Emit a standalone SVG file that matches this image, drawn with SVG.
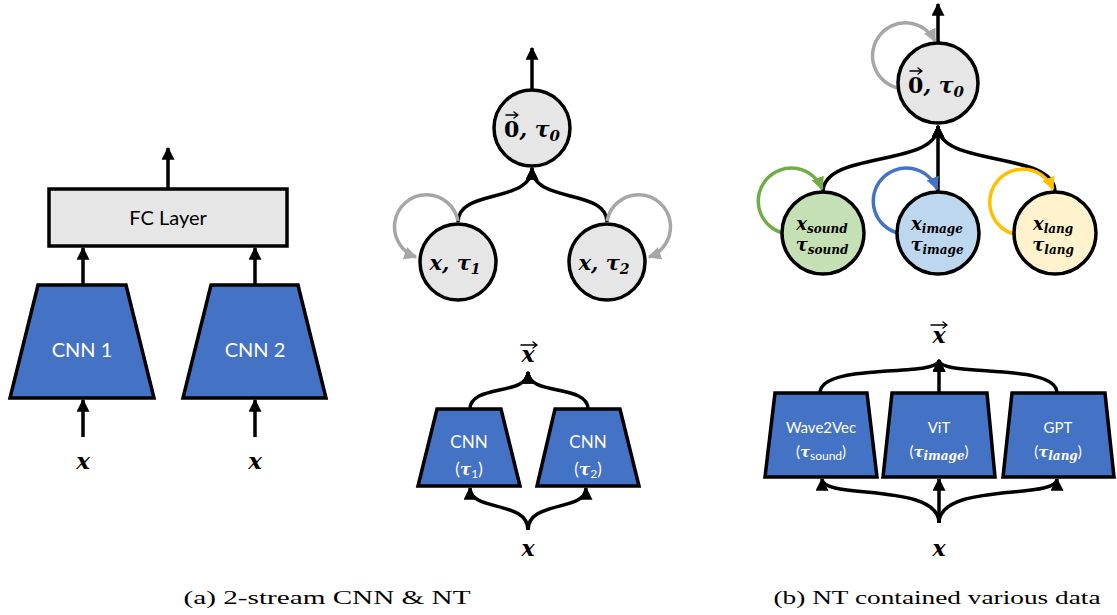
<svg xmlns="http://www.w3.org/2000/svg" width="1117" height="615" viewBox="0 0 1117 615">
<style>
.node{stroke:#000;stroke-width:3.5}
.grey{fill:#e6e6e6}
.blue{fill:#4472c4}
.conn{fill:none;stroke:#000;stroke-width:3.5}
.loop{fill:none;stroke-width:3.5}
.vec{fill:none;stroke:#000;stroke-width:1.4;stroke-linecap:round;stroke-linejoin:round}
.lbl{font-family:"Lato","Open Sans",sans-serif;fill:#fff;text-anchor:middle}
.math{font-family:"DejaVu Serif","Liberation Serif",serif;font-weight:bold;font-style:italic;fill:#000;text-anchor:middle}
.mathw{font-family:"DejaVu Serif","Liberation Serif",serif;font-weight:bold;font-style:italic;fill:#fff}
.up{font-style:normal}
.cap{font-family:"Liberation Serif","DejaVu Serif",serif;font-size:19px;fill:#000;text-anchor:middle}
</style>
<defs>
<marker id="ah" viewBox="0 0 10 10" refX="9" refY="5" markerUnits="userSpaceOnUse" markerWidth="13" markerHeight="13" orient="auto"><path d="M0,0 L10,5 L0,10 z" fill="#000"/></marker>
<marker id="ahg" viewBox="0 0 10 10" refX="9" refY="5" markerUnits="userSpaceOnUse" markerWidth="13" markerHeight="13" orient="auto"><path d="M0,0 L10,5 L0,10 z" fill="#a6a6a6"/></marker>
<marker id="ahgr" viewBox="0 0 10 10" refX="9" refY="5" markerUnits="userSpaceOnUse" markerWidth="13" markerHeight="13" orient="auto"><path d="M0,0 L10,5 L0,10 z" fill="#70ad47"/></marker>
<marker id="ahb" viewBox="0 0 10 10" refX="9" refY="5" markerUnits="userSpaceOnUse" markerWidth="13" markerHeight="13" orient="auto"><path d="M0,0 L10,5 L0,10 z" fill="#4472c4"/></marker>
<marker id="ahy" viewBox="0 0 10 10" refX="9" refY="5" markerUnits="userSpaceOnUse" markerWidth="13" markerHeight="13" orient="auto"><path d="M0,0 L10,5 L0,10 z" fill="#ffc000"/></marker>
</defs>

<!-- connectors -->
<g id="connectors">
  <!-- panel a left -->
  <path class="conn" d="M168,189 L168,148" marker-end="url(#ah)"/>
  <path class="conn" d="M83,285 L83,248" marker-end="url(#ah)"/>
  <path class="conn" d="M255,285 L255,248" marker-end="url(#ah)"/>
  <path class="conn" d="M83,437 L83,400" marker-end="url(#ah)"/>
  <path class="conn" d="M255,437 L255,400" marker-end="url(#ah)"/>
  <!-- panel a NT -->
  <path class="conn" d="M532,90 L532,48" marker-end="url(#ah)"/>
  <path class="conn" d="M458,222 C458,188 532,204 532,168" marker-end="url(#ah)"/>
  <path class="conn" d="M607,222 C607,188 532,204 532,168" marker-end="url(#ah)"/>
  <path class="loop" stroke="#a6a6a6" d="M458,221 A32,32 0 1 0 416,257" marker-end="url(#ahg)"/>
  <path class="loop" stroke="#a6a6a6" d="M607,221 A32,32 0 1 1 649,257" marker-end="url(#ahg)"/>
  <!-- panel a CNN NT -->
  <path class="conn" d="M470,409 C470,384 528,396 528,372" marker-end="url(#ah)"/>
  <path class="conn" d="M588,409 C588,384 528,396 528,372" marker-end="url(#ah)"/>
  <path class="conn" d="M528,530 C528,500 470,512 470,488" marker-end="url(#ah)"/>
  <path class="conn" d="M528,530 C528,500 586,512 586,488" marker-end="url(#ah)"/>
  <!-- panel b NT -->
  <path class="conn" d="M938,45 L938,4" marker-end="url(#ah)"/>
  <path class="loop" stroke="#a6a6a6" d="M898,88 A33,33 0 1 1 935,41" marker-end="url(#ahg)"/>
  <path class="conn" d="M823,192 C823,150 938,168 938,126" marker-end="url(#ah)"/>
  <path class="conn" d="M938,192 L938,126" marker-end="url(#ah)"/>
  <path class="conn" d="M1055,192 C1055,150 938,168 938,126" marker-end="url(#ah)"/>
  <path class="loop" stroke="#70ad47" d="M783,233 A33,33 0 1 1 822,189" marker-end="url(#ahgr)"/>
  <path class="loop" stroke="#4472c4" d="M898,233 A33,33 0 1 1 937,189" marker-end="url(#ahb)"/>
  <path class="loop" stroke="#ffc000" d="M1014,234 A33,33 0 1 1 1053,189" marker-end="url(#ahy)"/>
  <!-- panel b encoders -->
  <path class="conn" d="M820,393 C820,362 939,378 939,360" marker-end="url(#ah)"/>
  <path class="conn" d="M939,393 L939,360" marker-end="url(#ah)"/>
  <path class="conn" d="M1057,393 C1057,362 939,378 939,360" marker-end="url(#ah)"/>
  <path class="conn" d="M939,523 C939,482 822,500 822,479" marker-end="url(#ah)"/>
  <path class="conn" d="M939,523 L939,479" marker-end="url(#ah)"/>
  <path class="conn" d="M939,523 C939,482 1057,500 1057,479" marker-end="url(#ah)"/>
</g>

<!-- panel a: 2-stream CNN -->
<g id="fc">
  <rect class="node grey" x="49" y="189" width="238" height="57"/>
  <text class="lbl" x="168" y="225" font-size="20" style="fill:#000">FC Layer</text>
</g>
<g id="cnn1">
  <path class="node blue" d="M38,285 L126,285 L154,398 L10,398 Z"/>
  <text class="lbl" x="82" y="357" font-size="20">CNN 1</text>
</g>
<g id="cnn2">
  <path class="node blue" d="M211,285 L298,285 L326,398 L183,398 Z"/>
  <text class="lbl" x="255" y="357" font-size="20">CNN 2</text>
</g>
<g id="xa1"><text class="math" x="83" y="469" font-size="23">x</text></g>
<g id="xa2"><text class="math" x="255" y="469" font-size="23">x</text></g>

<!-- panel a: NT -->
<g id="nt0">
  <circle class="node grey" cx="532" cy="128" r="38"/>
  <text class="math" x="532" y="137" font-size="22"><tspan class="up">0</tspan>, τ<tspan font-size="15" dy="4">0</tspan></text>
  <path class="vec" d="M506,115 L518,115 M514,112 L518,115 L514,118"/>
</g>
<g id="nt1">
  <circle class="node grey" cx="458" cy="262" r="38"/>
  <text class="math" x="455" y="270" font-size="21">x, τ<tspan font-size="14" dy="4">1</tspan></text>
</g>
<g id="nt2">
  <circle class="node grey" cx="607" cy="262" r="38"/>
  <text class="math" x="604" y="270" font-size="21">x, τ<tspan font-size="14" dy="4">2</tspan></text>
</g>

<!-- panel a: CNN NT -->
<g id="xvec_a">
  <text class="math" x="528" y="362" font-size="22">x</text>
  <path class="vec" d="M521,345 L537,345 M533,342 L537,345 L533,348"/>
</g>
<g id="cnnt1">
  <path class="node blue" d="M437,409 L501,409 L520,486 L418,486 Z"/>
  <text class="lbl" x="469" y="448" font-size="17">CNN</text>
  <text class="lbl" x="469" y="475" font-size="17">(<tspan class="mathw">τ</tspan><tspan font-size="12" dy="3">1</tspan><tspan dy="-3">)</tspan></text>
</g>
<g id="cnnt2">
  <path class="node blue" d="M555,409 L620,409 L639,486 L537,486 Z"/>
  <text class="lbl" x="588" y="448" font-size="17">CNN</text>
  <text class="lbl" x="588" y="475" font-size="17">(<tspan class="mathw">τ</tspan><tspan font-size="12" dy="3">2</tspan><tspan dy="-3">)</tspan></text>
</g>
<g id="xa3"><text class="math" x="528" y="556" font-size="22">x</text></g>

<!-- panel b: NT -->
<g id="ntb0">
  <circle class="node grey" cx="938" cy="83" r="40"/>
  <text class="math" x="936" y="93" font-size="22"><tspan class="up">0</tspan>, τ<tspan font-size="15" dy="4">0</tspan></text>
  <path class="vec" d="M910,71 L922,71 M918,68 L922,71 L918,74"/>
</g>
<g id="ntsound">
  <circle class="node" fill="#c5e0b4" cx="823" cy="233" r="41"/>
  <text class="math" x="822" y="230" font-size="18">x<tspan font-size="12" dy="3">sound</tspan></text>
  <text class="math" x="822" y="251" font-size="18">τ<tspan font-size="12" dy="3">sound</tspan></text>
</g>
<g id="ntimage">
  <circle class="node" fill="#bdd7ee" cx="938" cy="233" r="41"/>
  <text class="math" x="937" y="230" font-size="18">x<tspan font-size="12" dy="3">image</tspan></text>
  <text class="math" x="937" y="251" font-size="18">τ<tspan font-size="12" dy="3">image</tspan></text>
</g>
<g id="ntlang">
  <circle class="node" fill="#fff2cc" cx="1055" cy="233" r="41"/>
  <text class="math" x="1053" y="230" font-size="18">x<tspan font-size="12" dy="3">lang</tspan></text>
  <text class="math" x="1053" y="251" font-size="18">τ<tspan font-size="12" dy="3">lang</tspan></text>
</g>

<!-- panel b: encoders -->
<g id="xvec_b">
  <text class="math" x="939" y="343" font-size="22">x</text>
  <path class="vec" d="M931,325 L947,325 M943,322 L947,325 L943,328"/>
</g>
<g id="wave2vec">
  <path class="node blue" d="M775,393 L867,393 L877,477 L765,477 Z"/>
  <text class="lbl" x="821" y="433" font-size="15">Wave2Vec</text>
  <text class="lbl" x="821" y="457" font-size="15">(<tspan class="mathw">τ</tspan><tspan font-size="12" dy="3">sound</tspan><tspan dy="-3">)</tspan></text>
</g>
<g id="vit">
  <path class="node blue" d="M892,393 L987,393 L995,477 L883,477 Z"/>
  <text class="lbl" x="939" y="433" font-size="15">ViT</text>
  <text class="lbl" x="939" y="457" font-size="15">(<tspan class="mathw">τ</tspan><tspan class="mathw" font-size="12" dy="3">image</tspan><tspan dy="-3">)</tspan></text>
</g>
<g id="gpt">
  <path class="node blue" d="M1012,393 L1105,393 L1114,477 L1003,477 Z"/>
  <text class="lbl" x="1058" y="433" font-size="15">GPT</text>
  <text class="lbl" x="1058" y="457" font-size="15">(<tspan class="mathw">τ</tspan><tspan class="mathw" font-size="12" dy="3">lang</tspan><tspan dy="-3">)</tspan></text>
</g>
<g id="xb"><text class="math" x="939" y="556" font-size="22">x</text></g>

<!-- captions -->
<text class="cap" x="327" y="604" textLength="287" lengthAdjust="spacingAndGlyphs">(a) 2-stream CNN &amp; NT</text>
<text class="cap" x="937" y="604" textLength="327" lengthAdjust="spacingAndGlyphs">(b) NT contained various data</text>
</svg>
